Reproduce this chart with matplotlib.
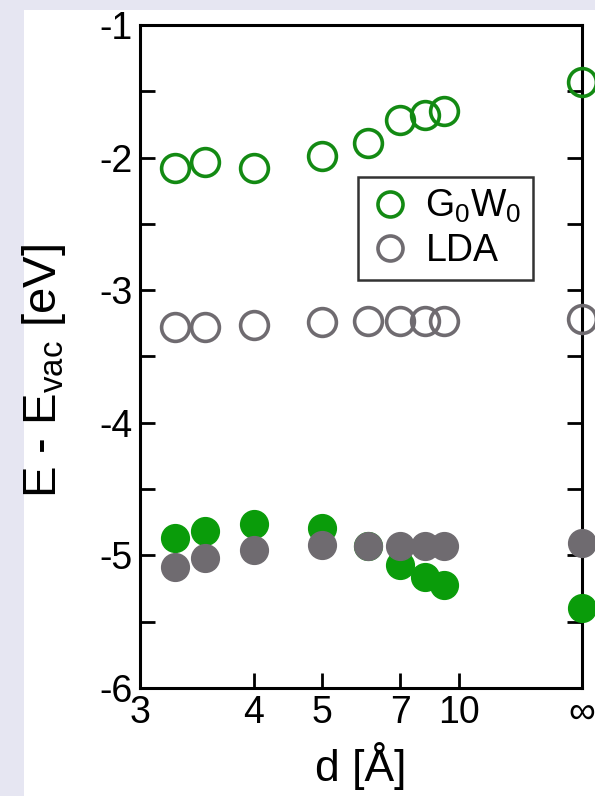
import numpy as np
import matplotlib.pyplot as plt
from matplotlib.patches import Rectangle

plt.rcParams['font.family'] = ['Liberation Sans', 'DejaVu Sans']
plt.rcParams['mathtext.default'] = 'regular'

# separation d in Angstrom, 100 stands for the "infinity" point at the right edge
d = [3.25, 3.5, 4, 5, 6, 7, 8, 9, 100]
gw_lumo = [-2.08, -2.03, -2.08, -1.99, -1.89, -1.72, -1.68, -1.65, -1.43]
lda_lumo = [-3.28, -3.28, -3.26, -3.24, -3.23, -3.23, -3.23, -3.23, -3.22]
gw_homo = [-4.87, -4.82, -4.76, -4.79, -4.93, -5.07, -5.16, -5.22, -5.40]
lda_homo = [-5.09, -5.02, -4.96, -4.92, -4.93, -4.93, -4.93, -4.93, -4.91]

xticks = [3, 4, 5, 7, 10, 100]
xticklabels = ['3', '4', '5', '7', '10', '∞']

green_open = '#138a13'
green_fill = '#0a9c0a'
gray = '#6f6b70'

fig = plt.figure(figsize=(5.95, 7.96), dpi=100, facecolor='#e6e6f2')
fig.patches.append(Rectangle((0.04, 0), 0.96, 0.987, transform=fig.transFigure,
                             facecolor='white', edgecolor='none', zorder=-1))
ax = fig.add_axes([0.2353, 0.1357, 0.7429, 0.833])
ax.set_facecolor('white')

# 1/d axis
ax.set_xscale('function', functions=(lambda x: -1.0 / x, lambda u: -1.0 / u))
ax.set_xlim(3, 100)
ax.set_ylim(-6, -1)

ms = 20
ax.plot(d, gw_lumo, 'o', ms=ms, mfc='none', mec=green_open, mew=2.6,
        clip_on=False, label=r'G$_0$W$_0$', zorder=3)
ax.plot(d, lda_lumo, 'o', ms=ms, mfc='none', mec=gray, mew=2.6,
        clip_on=False, label='LDA', zorder=3)
ax.plot(d, gw_homo, 'o', ms=ms, mfc=green_fill, mec=green_fill, mew=1,
        clip_on=False, zorder=4)
ax.plot(d, lda_homo, 'o', ms=ms, mfc=gray, mec=gray, mew=1,
        clip_on=False, zorder=5)

ax.set_xticks(xticks)
ax.set_xticklabels(xticklabels)
ax.set_xticks([], minor=True)
ax.set_yticks([-6, -5, -4, -3, -2, -1])
ax.set_yticklabels(['-6', '-5', '-4', '-3', '-2', '-1'])
ax.set_yticks(np.arange(-5.5, -1, 1.0), minor=True)

ax.tick_params(axis='both', which='both', direction='in', labelsize=27,
               width=2, length=11, right=True, top=False)
ax.tick_params(axis='x', pad=5)
ax.tick_params(axis='y', pad=5)
for s in ax.spines.values():
    s.set_linewidth(2.2)

ax.set_xlabel('d [Å]', fontsize=32, labelpad=8)
ax.set_ylabel(r'E - E$_{vac}$ [eV]', fontsize=34)
ax.yaxis.set_label_coords(-0.163, 0.478)

leg = ax.legend(loc='upper left', bbox_to_anchor=(0.493, 0.771), fontsize=27,
                frameon=True, fancybox=False, edgecolor='black', markerscale=0.9,
                handletextpad=0.4, borderpad=0.3, labelspacing=0.2,
                handlelength=1.1, borderaxespad=0)
leg.get_frame().set_linewidth(1.8)

plt.savefig('out.png', dpi=100, facecolor=fig.get_facecolor())
